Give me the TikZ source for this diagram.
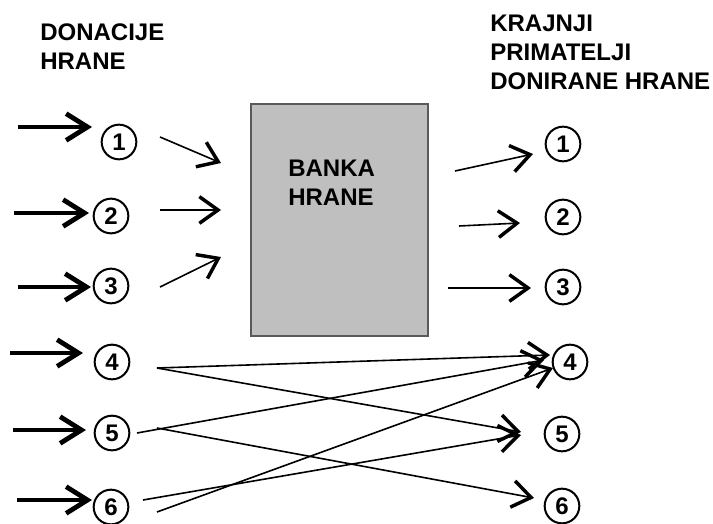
\documentclass[tikz,border=0pt]{standalone}
\usepackage{fontspec}
\setmainfont{Liberation Sans}
\usetikzlibrary{arrows.meta}

\tikzset{
  broj/.style={draw, circle, line width=1.5pt, minimum size=26pt, inner sep=0pt, font=\bfseries\fontsize{18}{18}\selectfont},
  naslov/.style={anchor=north west, inner sep=0pt, align=left, font=\bfseries\fontsize{18}{21.75}\selectfont},
  debela/.style={line width=3.6pt, -{Straight Barb[length=16pt,width=20pt,line width=3.6pt]}},
  tanka/.style={line width=1.2pt, -{Straight Barb[length=14pt,width=20pt,line width=2.6pt]}},
  kutija/.style={draw=black!65, fill=black!25, line width=1.8pt, anchor=north west, inner sep=0pt, minimum width=132.75pt, minimum height=174pt},
}

\begin{document}
\begin{tikzpicture}[x=0.75pt,y=0.75pt,yscale=-1,xscale=1]
	\useasboundingbox (0,0) rectangle (713,524);

	%Shape: Rectangle (banka hrane)
	\node[kutija] (banka) at (250,103) {};

	% Text Node
	\node[naslov] (donacije) at (40,23) {DONACIJE\\HRANE};
	% Text Node
	\node[naslov] (primatelji) at (490,15) {KRAJNJI\\PRIMATELJI\\DONIRANE HRANE};
	% Text Node
	\node[naslov] (bankatxt) at (288,160) {BANKA\\HRANE};

	%Circles: donatori
	\node[broj] (d1) at (119,142) {1};
	\node[broj] (d2) at (111,216) {2};
	\node[broj] (d3) at (111,286) {3};
	\node[broj] (d4) at (112,362) {4};
	\node[broj] (d5) at (112,433) {5};
	\node[broj] (d6) at (111,507) {6};

	%Circles: primatelji
	\node[broj] (r1) at (563,144) {1};
	\node[broj] (r2) at (563,217) {2};
	\node[broj] (r3) at (563,287) {3};
	\node[broj] (r4) at (570,362) {4};
	\node[broj] (r5) at (562,434) {5};
	\node[broj] (r6) at (562,506) {6};

	%Straight Lines: ulaz
	\coordinate (u1) at (18,127);  \coordinate (v1) at (92,127);
	\coordinate (u2) at (14,213);  \coordinate (v2) at (89,213);
	\coordinate (u3) at (18,287);  \coordinate (v3) at (91,287);
	\coordinate (u4) at (10,353);  \coordinate (v4) at (83,353);
	\coordinate (u5) at (13,430);  \coordinate (v5) at (86,430);
	\coordinate (u6) at (17,500);  \coordinate (v6) at (92,500);
	\draw[debela] (u1) -- (v1);
	\draw[debela] (u2) -- (v2);
	\draw[debela] (u3) -- (v3);
	\draw[debela] (u4) -- (v4);
	\draw[debela] (u5) -- (v5);
	\draw[debela] (u6) -- (v6);

	%Straight Lines: prema banci
	\coordinate (b1a) at (160,137); \coordinate (b1b) at (221,163);
	\coordinate (b2a) at (160,210); \coordinate (b2b) at (221,210);
	\coordinate (b3a) at (160,287); \coordinate (b3b) at (221,257);
	\draw[tanka] (b1a) -- (b1b);
	\draw[tanka] (b2a) -- (b2b);
	\draw[tanka] (b3a) -- (b3b);

	%Straight Lines: iz banke
	\coordinate (p1a) at (455,171); \coordinate (p1b) at (533,154);
	\coordinate (p2a) at (459,226); \coordinate (p2b) at (520,223);
	\coordinate (p3a) at (448,288); \coordinate (p3b) at (531,288);
	\draw[tanka] (p1a) -- (p1b);
	\draw[tanka] (p2a) -- (p2b);
	\draw[tanka] (p3a) -- (p3b);

	%Straight Lines: izravno
	\coordinate (x4) at (157,368);
	\coordinate (x5) at (137,433);  \coordinate (x5b) at (157,428);
	\coordinate (x6) at (143,500);  \coordinate (x6b) at (157,512);
	\coordinate (y4a) at (550,355); \coordinate (y4b) at (544,360); \coordinate (y4c) at (553,368);
	\coordinate (y5a) at (521,432); \coordinate (y5b) at (521,435);
	\coordinate (y6) at (534,498);
	\draw[tanka] (x4) -- (y4a);
	\draw[tanka] (x4) -- (y5a);
	\draw[tanka] (x5) -- (y4b);
	\draw[tanka] (x5b) -- (y6);
	\draw[tanka] (x6) -- (y5b);
	\draw[tanka] (x6b) -- (y4c);

\end{tikzpicture}
\end{document}
